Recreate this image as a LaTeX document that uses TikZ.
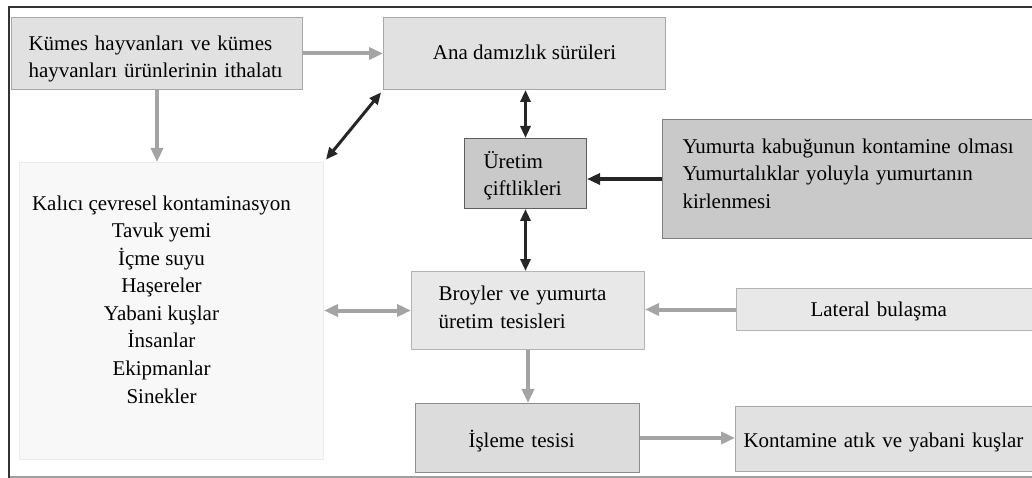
\documentclass[tikz,border=0pt]{standalone}
\usepackage{fontspec}
\setmainfont{Liberation Serif}
\usetikzlibrary{arrows.meta,calc}
\definecolor{fillA}{HTML}{E1E1E1}
\definecolor{drawA}{HTML}{A8A8A8}
\definecolor{fillB}{HTML}{E8E8E8}
\definecolor{drawB}{HTML}{B4B4B4}
\definecolor{fillD}{HTML}{C9C9C9}
\definecolor{drawD}{HTML}{5E5E5E}
\definecolor{fillI}{HTML}{DCDCDC}
\definecolor{drawI}{HTML}{8C8C8C}
\definecolor{fillK}{HTML}{F8F8F8}
\definecolor{drawK}{HTML}{ECECEC}
\definecolor{arrGray}{HTML}{A4A4A4}
\definecolor{arrBlack}{HTML}{262626}
\definecolor{frameDark}{HTML}{333333}
\definecolor{frameGray}{HTML}{A0A0A0}
\hyphenpenalty=10000
\begin{document}
\begin{tikzpicture}[x=1pt,y=-1pt,
  basebox/.style={anchor=north west, inner ysep=0pt, line width=1pt,
    font=\fontsize{21pt}{27.5pt}\selectfont, text height=25pt},
  lefttext/.style={align=left},
  boxA/.style={basebox, fill=fillA, draw=drawA},
  boxB/.style={basebox, fill=fillB, draw=drawB},
  boxD/.style={basebox, fill=fillD, draw=drawD},
  boxI/.style={basebox, fill=fillI, draw=drawI},
  boxK/.style={basebox, fill=fillK, draw=drawK},
  grayarrow/.style={draw=arrGray, line width=4pt, -{Triangle[length=14pt,width=12pt]}},
  grayboth/.style={draw=arrGray, line width=4pt, {Triangle[length=14pt,width=12pt]}-{Triangle[length=14pt,width=12pt]}},
  blackarrow/.style={draw=arrBlack, line width=4pt, -{Triangle[length=13pt,width=11pt]}},
  blackboth/.style={draw=arrBlack, line width=3pt, {Triangle[length=12pt,width=10pt]}-{Triangle[length=12pt,width=10pt]}}
]
\useasboundingbox (0,0) rectangle (1032,478);

% frame
\draw[frameGray, line width=1.5pt] (9,477) -- (1032,477);
\draw[frameDark, line width=2pt] (9,478) -- (9,7) -- (1032,7);

% boxes
\node[boxA, lefttext, minimum width=291pt, minimum height=72pt, inner xsep=17pt, text width=257pt, text depth=31pt]
  (imp) at (11,17) {Kümes hayvanları ve kümes\\hayvanları ürünlerinin ithalatı};
\node[boxA, minimum width=282pt, minimum height=72pt, inner xsep=0pt, text depth=13pt]
  (ana) at (383,17) {Ana damızlık sürüleri};
\node[boxD, lefttext, minimum width=122pt, minimum height=70pt, inner xsep=19pt, text width=84pt, text depth=35pt]
  (uret) at (464,138) {Üretim\\çiftlikleri};
\node[boxD, lefttext, draw=drawD!80!white, minimum width=400pt, minimum height=119pt, inner xsep=20pt, text width=360pt, text depth=76pt]
  (yum) at (662,119) {Yumurta kabuğunun kontamine olması\\Yumurtalıklar yoluyla yumurtanın\\kirlenmesi};
\node[boxK, minimum width=304pt, minimum height=297pt, inner xsep=0pt, text depth=226pt]
  (kal) at (19,162) {\parbox[t]{284pt}{\centering Kalıcı çevresel kontaminasyon\\Tavuk yemi\\İçme suyu\\Haşereler\\Yabani kuşlar\\İnsanlar\\Ekipmanlar\\Sinekler}\hspace*{20pt}};
\node[boxB, lefttext, minimum width=233pt, minimum height=78pt, inner xsep=27pt, text width=179pt, text depth=45pt]
  (broy) at (411,271) {Broyler ve yumurta\\üretim tesisleri};
\node[boxB, lefttext, minimum width=304pt, minimum height=42pt, inner xsep=74pt, text width=156pt, text depth=11pt]
  (lat) at (736,288) {Lateral bulaşma};
\node[boxI, lefttext, minimum width=224pt, minimum height=69pt, inner xsep=53pt, text width=118pt, text depth=6pt]
  (isl) at (415,403) {İşleme tesisi};
\node[boxA, lefttext, minimum width=305pt, minimum height=65pt, inner xsep=8pt, text width=289pt, text depth=8pt]
  (kon) at (735,406) {Kontamine atık ve yabani kuşlar};

% connectors
\draw[grayarrow] (imp.east) -- (ana.west);
\draw[grayarrow] (imp.south) -- (imp.south |- kal.north);
\draw[blackboth, shorten <=3pt, shorten >=3pt] (kal.north east) -- (ana.south west);
\draw[blackboth] (uret.north) -- (uret.north |- ana.south);
\draw[blackboth] (uret.south) -- (uret.south |- broy.north);
\draw[blackarrow] (yum.west) -- (yum.west -| uret.east);
\draw[grayboth] (broy.west) -- (broy.west -| kal.east);
\draw[grayarrow] (lat.west) -- (lat.west -| broy.east);
\draw[grayarrow] (broy.south) -- (broy.south |- isl.north);
\draw[grayarrow] (isl.east) -- (isl.east -| kon.west);
\end{tikzpicture}
\end{document}
